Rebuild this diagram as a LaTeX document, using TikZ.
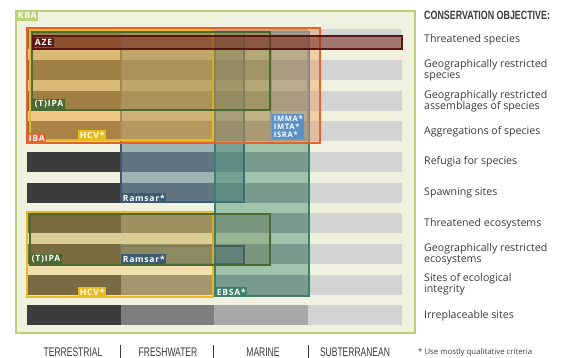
\documentclass[tikz,border=0pt]{standalone}
\usepackage{fontspec}
\setmainfont{Open Sans}
\newfontfamily\condfont[FakeStretch=0.68]{Liberation Sans}
\newfontfamily\headfont[FakeStretch=0.74]{Liberation Sans}
\newfontfamily\tagfont[LetterSpace=9]{Open Sans}
\usepackage{tikz}

\definecolor{kbagreen}{HTML}{B9D178}
\definecolor{kbafill}{HTML}{F0F2DF}
\definecolor{ibaorange}{HTML}{E8602C}
\definecolor{ibafill}{HTML}{F29A4C}
\definecolor{hcvyellow}{HTML}{E9BC1E}
\definecolor{hcvfill}{HTML}{F0C050}
\definecolor{ipagreen}{HTML}{4B6A32}
\definecolor{ipafill}{HTML}{7A7A30}
\definecolor{ramsarblue}{HTML}{3C5A70}
\definecolor{ramsarfill}{HTML}{3F6A85}
\definecolor{ebsateal}{HTML}{3D7F6A}
\definecolor{ebsafill}{HTML}{3F8A6C}
\definecolor{immablue}{HTML}{5B91C9}
\definecolor{immafill}{HTML}{7AA0D0}
\definecolor{azered}{HTML}{5C1515}
\definecolor{azefill}{HTML}{7A2A22}
\definecolor{textgrey}{HTML}{3A3A3A}
\definecolor{dark}{HTML}{3C3C3C}
\definecolor{mid}{HTML}{7E7E7E}
\definecolor{light}{HTML}{A9A9A9}
\definecolor{pale}{HTML}{D3D3D3}

\tikzset{
  tag/.style={fill=#1, text=white, font=\tagfont\bfseries\fontsize{8.6}{8.6}\selectfont, inner sep=1.6pt, anchor=south west},
  objective/.style={anchor=west, align=left, text=textgrey, inner sep=0pt, font=\fontsize{10.6}{11}\selectfont},
  realm/.style={text=textgrey, font=\condfont\fontsize{12.5}{12.5}\selectfont},
  zone/.style={line width=1.4pt}
}

\begin{document}
\begin{tikzpicture}[x=1pt, y=-1pt]
\useasboundingbox (0,0) rectangle (567,358);

\filldraw[kbagreen, fill=kbafill, line width=2pt] (16,11) rectangle (415,333);

\foreach \r in {0, ..., 9} {
	\foreach \c/\xl/\xr in {dark/27/121, mid/121/214, light/214/308, pale/308/402}
		\fill[\c] (\xl, {29.5 + 30.65*\r}) rectangle (\xr, {49.5 + 30.65*\r});
}

% water boxes below
\filldraw[zone, draw=ramsarblue, fill=ramsarfill, fill opacity=0.45] (121,32) rectangle (244,202);
\filldraw[zone, draw=ebsateal, fill=ebsafill, fill opacity=0.45] (215,32) rectangle (309,296);
\filldraw[zone, draw=immablue, fill=immafill, fill opacity=0.3] (271,32) rectangle (308,139);
\filldraw[zone, draw=ramsarblue, fill=ramsarfill, fill opacity=0.45] (121,246) rectangle (244,264);

% upper group
\filldraw[zone, draw=ibaorange, fill=ibafill, fill opacity=0.4] (27,28) rectangle (320,143);
\filldraw[zone, draw=hcvyellow, fill=hcvfill, fill opacity=0.35] (30,30) rectangle (213,140);
\filldraw[zone, draw=ipagreen, fill=ipafill, fill opacity=0.18] (32,32) rectangle (270,110);
\filldraw[zone, draw=azered, fill=azefill, fill opacity=0.55] (33,36) rectangle (402,49);

% lower group
\filldraw[zone, draw=hcvyellow, fill=hcvfill, fill opacity=0.35] (27,212) rectangle (213,297);
\filldraw[zone, draw=ipagreen, fill=ipafill, fill opacity=0.18] (30,214) rectangle (270,265);

\node[tag=kbagreen, anchor=north west] (kba) at (16,11) {KBA};
\node[tag=azered, anchor=west] (aze) at (33,42.5) {AZE};
\node[tag=ibaorange] (iba) at (27,143) {IBA};
\node[tag=hcvyellow] (hcvup) at (78,140) {HCV*};
\node[tag=ipagreen] (ipaup) at (33,110) {(T)IPA};
\node[tag=immablue, align=left, font=\tagfont\bfseries\fontsize{7.6}{7.8}\selectfont] (imma) at (272,139) {IMMA*\\IMTA*\\ISRA*};
\node[tag=ramsarblue] (ramsarup) at (121,203) {Ramsar*};
\node[tag=ebsateal] (ebsa) at (215,297) {EBSA*};
\node[tag=hcvyellow] (hcvlow) at (78,297) {HCV*};
\node[tag=ipagreen] (ipalow) at (30,265) {(T)IPA};
\node[tag=ramsarblue] (ramsarlow) at (121,264) {Ramsar*};

\node[anchor=west, inner sep=0pt, text=textgrey, font=\headfont\bfseries\fontsize{12}{12}\selectfont] (head) at (424,15) {CONSERVATION OBJECTIVE:};
\node[objective] (o1) at (424,39.5) {Threatened species};
\node[objective] (o2) at (424,70.2) {Geographically restricted\\species};
\node[objective] (o3) at (424,100.8) {Geographically restricted\\assemblages of species};
\node[objective] (o4) at (424,131.5) {Aggregations of species};
\node[objective] (o5) at (424,162.1) {Refugia for species};
\node[objective] (o6) at (424,192.8) {Spawning sites};
\node[objective] (o7) at (424,223.4) {Threatened ecosystems};
\node[objective] (o8) at (424,254.1) {Geographically restricted\\ecosystems};
\node[objective] (o9) at (424,284.7) {Sites of ecological\\integrity};
\node[objective] (o10) at (424,315.4) {Irreplaceable sites};
\node[anchor=west, inner sep=0pt, text=textgrey, font=\fontsize{7.8}{7.8}\selectfont] (note) at (418,352) {* Use mostly qualitative criteria};

\node[realm] (terr) at (73,352) {TERRESTRIAL};
\node[realm] (fresh) at (168,352) {FRESHWATER};
\node[realm] (marine) at (263,352) {MARINE};
\node[realm] (subt) at (355,352) {SUBTERRANEAN};
\foreach \xa in {120, 213, 308}
	\draw[textgrey, line width=0.6pt] (\xa,345) -- (\xa,358);
\end{tikzpicture}
\end{document}
